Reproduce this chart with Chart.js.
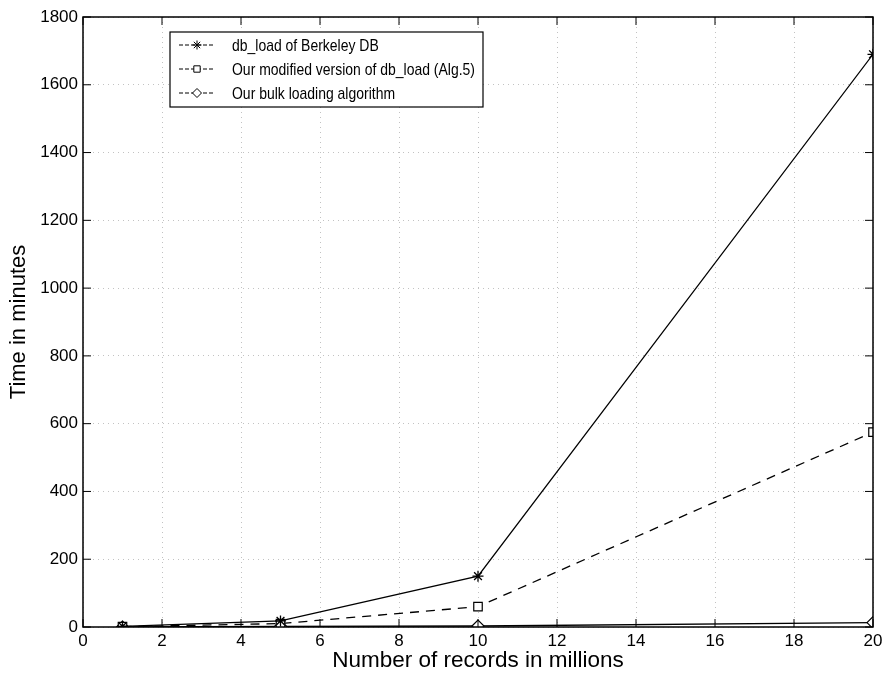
<!DOCTYPE html>
<html>
<head>
<meta charset="utf-8">
<script src="https://cdn.jsdelivr.net/npm/chart.js@4.4.0/dist/chart.umd.min.js"></script>
<style>
  html, body { margin: 0; padding: 0; background: #fff; }
  #wrap { width: 882px; height: 674px; }
</style>
</head>
<body>
<div id="wrap"><canvas id="chart" width="882" height="674"></canvas></div>
<script>
const records = [1, 5, 10, 20];
const dbLoad = [2, 18, 150, 1690];
const modified = [1, 10, 60, 575];
const bulk = [0, 2, 3, 13];
const seriesNames = ['db_load of Berkeley DB', 'Our modified version of db_load (Alg.5)', 'Our bulk loading algorithm'];

const FONT = 'Liberation Sans, Arial, Helvetica, sans-serif';

function pts(ys) {
  return records.map((x, i) => ({ x: x, y: ys[i] }));
}

// frame, inward ticks and the legend box inside the axes
const matlabAxes = {
  id: 'matlabAxes',
  afterDraw(chart) {
    const ctx = chart.ctx;
    const a = chart.chartArea;
    const xs = chart.scales.x, ys = chart.scales.y;
    ctx.save();
    ctx.strokeStyle = '#000';
    ctx.lineWidth = 1.5;
    ctx.strokeRect(a.left, a.top, a.right - a.left, a.bottom - a.top);
    ctx.lineWidth = 1;
    ctx.beginPath();
    xs.ticks.forEach(t => {
      const px = xs.getPixelForValue(t.value);
      ctx.moveTo(px, a.bottom); ctx.lineTo(px, a.bottom - 8);
      ctx.moveTo(px, a.top); ctx.lineTo(px, a.top + 8);
    });
    ys.ticks.forEach(t => {
      const py = ys.getPixelForValue(t.value);
      ctx.moveTo(a.left, py); ctx.lineTo(a.left + 8, py);
      ctx.moveTo(a.right, py); ctx.lineTo(a.right - 8, py);
    });
    ctx.stroke();

    // legend
    const lx = 170, ly = 32, lw = 313, lh = 75;
    ctx.fillStyle = '#fff';
    ctx.fillRect(lx, ly, lw, lh);
    ctx.lineWidth = 1.2;
    ctx.strokeRect(lx, ly, lw, lh);
    ctx.font = '17px ' + FONT;
    ctx.textBaseline = 'middle';
    const longest = Math.max.apply(null, chart.data.datasets.map(d => ctx.measureText(d.label).width));
    const sx = 243 / longest;
    chart.data.datasets.forEach((ds, i) => {
      const y = ly + 13 + i * 24;
      ctx.strokeStyle = '#000';
      ctx.lineWidth = 1;
      ctx.setLineDash([4, 2]);
      ctx.beginPath();
      ctx.moveTo(lx + 9, y); ctx.lineTo(lx + 44, y);
      ctx.stroke();
      ctx.setLineDash([]);
      ctx.fillStyle = '#fff';
      Chart.helpers.drawPoint(ctx, {
        pointStyle: ds.pointStyle, radius: 4.5, rotation: 0, borderWidth: 1
      }, lx + 27, y);
      ctx.fillStyle = '#000';
      ctx.save();
      ctx.translate(lx + 62, y + 1);
      ctx.scale(sx, 1);
      ctx.fillText(ds.label, 0, 0);
      ctx.restore();
    });
    ctx.restore();
  }
};

const gridStyle = {
  color: 'rgba(0,0,0,0.3)',
  lineWidth: 0.8,
  drawTicks: false
};

new Chart(document.getElementById('chart'), {
  type: 'line',
  data: {
    datasets: [
      {
        label: seriesNames[0], data: pts(dbLoad),
        borderColor: '#000', borderWidth: 1.3, backgroundColor: '#000',
        pointStyle: 'star', pointRadius: 5.5, pointBorderWidth: 1.3
      },
      {
        label: seriesNames[1], data: pts(modified),
        borderColor: '#000', borderWidth: 1.3, borderDash: [9, 7], backgroundColor: '#fff',
        pointStyle: 'rect', pointRadius: 6, pointBorderWidth: 1.2
      },
      {
        label: seriesNames[2], data: pts(bulk),
        borderColor: '#000', borderWidth: 1.3, backgroundColor: '#fff',
        pointStyle: 'rectRot', pointRadius: 6, pointBorderWidth: 1.2
      }
    ]
  },
  options: {
    responsive: false,
    animation: false,
    layout: { padding: { top: 17, right: 9, left: 0, bottom: 0 } },
    plugins: { legend: { display: false }, tooltip: { enabled: false } },
    scales: {
      x: {
        type: 'linear', min: 0, max: 20,
        ticks: { stepSize: 2, color: '#000', font: { family: FONT, size: 17 }, padding: 4, maxRotation: 0 },
        grid: Object.assign({}, gridStyle),
        border: { display: false, dash: [1, 4] },
        title: { display: true, text: 'Number of records in millions', color: '#000', font: { family: FONT, size: 22.5 }, padding: { top: 0, bottom: 0 } },
        afterFit(s) { s.height = 47; s.paddingRight = 0; s.paddingLeft = 0; }
      },
      y: {
        min: 0, max: 1800,
        ticks: { stepSize: 200, color: '#000', font: { family: FONT, size: 17 }, padding: 5, callback: v => String(v) },
        grid: Object.assign({}, gridStyle),
        border: { display: false, dash: [1, 4] },
        title: { display: true, text: 'Time in minutes', color: '#000', font: { family: FONT, size: 22 }, padding: { top: 6, bottom: 0 } },
        afterFit(s) { s.width = 83; s.paddingTop = 0; s.paddingBottom = 0; }
      }
    }
  },
  plugins: [matlabAxes]
});
</script>
</body>
</html>
